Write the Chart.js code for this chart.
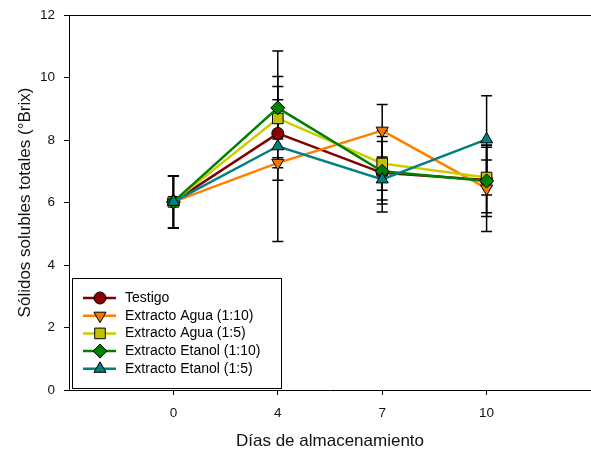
<!DOCTYPE html>
<html lang="es">
<head>
  <meta charset="UTF-8" />
  <title>Sólidos solubles totales</title>
  <script src="https://cdn.jsdelivr.net/npm/chart.js"></script>
  <style>
    html, body { margin: 0; padding: 0; background: #fff; overflow: hidden; }
    .wrap { width: 591px; height: 453px; position: relative; }
  </style>
</head>
<body>
  <div class="wrap"><canvas id="grafico"></canvas></div>

  <script>
    // dias de almacenamiento
    const dias = ['0', '4', '7', '10'];
    const yTicks = [0, 2, 4, 6, 8, 10, 12];

    const series = ['Testigo', 'Extracto Agua (1:10)', 'Extracto Agua (1:5)', 'Extracto Etanol (1:10)', 'Extracto Etanol (1:5)'];

    // medias (°Brix)
    const testigo   = [6.02, 8.21, 6.95, 6.72];
    const agua10    = [6.02, 7.27, 8.30, 6.45];
    const agua5     = [6.02, 8.69, 7.25, 6.80];
    const etanol10  = [6.02, 9.03, 7.00, 6.69];
    const etanol5   = [6.02, 7.80, 6.74, 8.02];

    // desviaciones
    const testigoErr  = [0.83, 1.50, 1.00, 1.05];
    const agua10Err   = [0.83, 0.16, 0.84, 1.38];
    const agua5Err    = [0.83, 0.60, 0.86, 0.56];
    const etanol10Err = [0.83, 1.00, 1.30, 1.14];
    const etanol5Err  = [0.83, 3.05, 0.66, 1.40];

    const font = 'Liberation Sans, Arial, sans-serif';

    const estilos = [
      { line: '#800000', fill: '#8b0000', style: 'circle', r: 6, rot: 0 },
      { line: '#ff8000', fill: '#f07800', style: 'triangle', r: 7, rot: 180 },
      { line: '#cccc00', fill: '#c2c200', style: 'rect', r: 7.5, rot: 0 },
      { line: '#008000', fill: '#008000', style: 'rectRot', r: 7, rot: 0 },
      { line: '#008080', fill: '#008080', style: 'triangle', r: 7, rot: 0 }
    ];

    const medias = [testigo, agua10, agua5, etanol10, etanol5];
    const errores = [testigoErr, agua10Err, agua5Err, etanol10Err, etanol5Err];

    const datasets = series.map((nombre, i) => ({
      label: nombre,
      data: medias[i].map((v, j) => ({ x: j, y: v })),
      errores: errores[i],
      borderColor: estilos[i].line,
      borderWidth: 2.5,
      backgroundColor: estilos[i].fill,
      pointStyle: estilos[i].style,
      pointRadius: estilos[i].r,
      pointRotation: estilos[i].rot,
      pointBorderColor: '#000',
      pointBorderWidth: 1,
      pointBackgroundColor: estilos[i].fill,
      order: series.length - 1 - i,
      tension: 0
    }));

    const barrasError = {
      id: 'barrasError',
      beforeDatasetsDraw(chart) {
        const ctx = chart.ctx;
        const xs = chart.scales.x, ys = chart.scales.y;
        ctx.save();
        ctx.strokeStyle = '#000';
        ctx.lineWidth = 1.5;
        chart.data.datasets.forEach(ds => {
          ds.data.forEach((p, j) => {
            const e = ds.errores[j];
            const x = xs.getPixelForValue(p.x);
            const y1 = ys.getPixelForValue(p.y + e);
            const y2 = ys.getPixelForValue(p.y - e);
            ctx.beginPath();
            ctx.moveTo(x, y1); ctx.lineTo(x, y2);
            ctx.moveTo(x - 5.5, y1); ctx.lineTo(x + 5.5, y1);
            ctx.moveTo(x - 5.5, y2); ctx.lineTo(x + 5.5, y2);
            ctx.stroke();
          });
        });
        ctx.restore();
      }
    };

    const marco = {
      id: 'marco',
      afterDraw(chart) {
        const { ctx, chartArea } = chart;
        ctx.save();
        ctx.strokeStyle = '#000';
        ctx.lineWidth = 1;
        ctx.beginPath();
        ctx.moveTo(chartArea.left, chartArea.top + 0.5);
        ctx.lineTo(chart.width, chartArea.top + 0.5);
        ctx.stroke();

        // leyenda
        const bx = 72, by = 278, bw = 209, bh = 110;
        ctx.fillStyle = '#fff';
        ctx.fillRect(bx, by, bw, bh);
        ctx.strokeRect(bx + 0.5, by + 0.5, bw, bh);
        ctx.font = '14px ' + font;
        ctx.textBaseline = 'middle';
        series.forEach((nombre, i) => {
          const y = 298 + i * 17.7;
          const est = estilos[i];
          ctx.strokeStyle = est.line;
          ctx.lineWidth = 2.5;
          ctx.beginPath();
          ctx.moveTo(83, y); ctx.lineTo(116, y);
          ctx.stroke();
          ctx.fillStyle = est.fill;
          ctx.strokeStyle = '#000';
          ctx.lineWidth = 1;
          Chart.helpers.drawPoint(ctx, { pointStyle: est.style, radius: est.r, rotation: est.rot, borderWidth: 1 }, 100, y);
          ctx.fillStyle = '#000';
          ctx.fillText(nombre, 125, y);
        });
        ctx.restore();
      }
    };

    new Chart(document.getElementById('grafico'), {
      type: 'line',
      data: { datasets },
      options: {
        responsive: true,
        maintainAspectRatio: false,
        animation: false,
        layout: { autoPadding: false, padding: { top: 15, left: 0, right: 0, bottom: 0 } },
        plugins: { legend: { display: false }, tooltip: { enabled: false } },
        scales: {
          x: {
            type: 'linear',
            min: -1,
            max: 4,
            afterBuildTicks: s => { s.ticks = dias.map((d, i) => ({ value: i })); },
            afterFit: s => { s.height = 63; s.paddingLeft = 0; s.paddingRight = 0; },
            grid: { drawOnChartArea: false, drawTicks: true, tickLength: 5, tickColor: '#000' },
            border: { display: true, color: '#000', width: 1 },
            ticks: {
              color: '#111',
              padding: 10,
              font: { family: font, size: 13.5 },
              callback: v => dias[v]
            },
            title: {
              display: true,
              text: 'Días de almacenamiento',
              color: '#111',
              font: { family: font, size: 17 },
              padding: { top: 0, bottom: 1 }
            }
          },
          y: {
            min: 0,
            max: 12,
            afterBuildTicks: s => { s.ticks = yTicks.map(v => ({ value: v })); },
            afterFit: s => { s.width = 69; s.paddingTop = 0; s.paddingBottom = 0; },
            grid: { drawOnChartArea: false, drawTicks: true, tickLength: 5, tickColor: '#000' },
            border: { display: true, color: '#000', width: 1 },
            ticks: {
              color: '#111',
              padding: 9,
              font: { family: font, size: 13.5 }
            },
            title: {
              display: true,
              text: 'Sólidos solubles totales (°Brix)',
              color: '#111',
              font: { family: font, size: 17 },
              padding: { top: 15, bottom: 0 }
            }
          }
        }
      },
      plugins: [barrasError, marco]
    });
  </script>
</body>
</html>
